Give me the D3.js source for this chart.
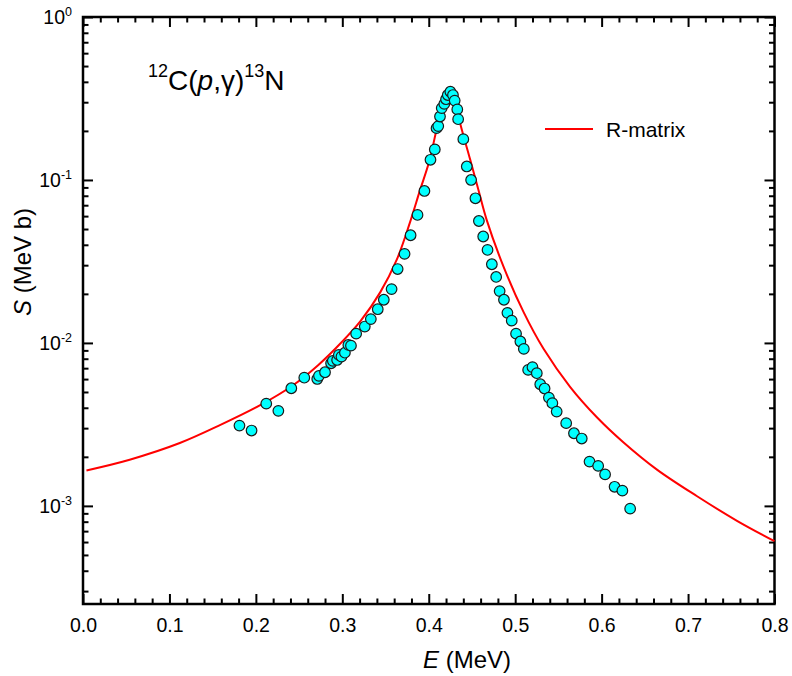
<!DOCTYPE html>
<html>
<head>
<meta charset="utf-8">
<title>12C(p,g)13N</title>
<style>
  body { margin: 0; background: #fff; }
  svg { display: block; font-family: "Liberation Sans", Arial, sans-serif; }
  .tick line { stroke: #000; stroke-width: 2px; }
  .tick text { font-size: 19.5px; fill: #000; font-family: "Liberation Sans", Arial, sans-serif; }
</style>
<script src="https://d3js.org/d3.v7.min.js"></script>
</head>
<body>
<script>
// measured points, E in MeV, S in MeV b
var E_data = [0.181,0.195,0.212,0.226,0.241,0.256,0.271,0.273,0.280,0.287,
              0.289,0.294,0.296,0.299,0.303,0.307,0.310,0.316,0.326,0.333,
              0.341,0.348,0.357,0.364,0.372,0.379,0.387,0.395,0.402,0.407,
              0.409,0.411,0.413,0.415,0.418,0.420,0.422,0.425,0.428,0.430,
              0.433,0.434,0.440,0.444,0.449,0.454,0.458,0.463,0.468,0.473,
              0.478,0.482,0.487,0.491,0.496,0.501,0.506,0.510,0.515,0.520,
              0.525,0.529,0.534,0.539,0.543,0.548,0.559,0.568,0.577,0.586,
              0.596,0.604,0.615,0.624,0.633];
var S_data = [3.11e-3,2.90e-3,4.24e-3,3.83e-3,5.27e-3,6.12e-3,6.01e-3,6.28e-3,6.61e-3,7.50e-3,
              7.76e-3,7.86e-3,8.44e-3,8.24e-3,8.71e-3,9.72e-3,9.62e-3,1.14e-2,1.26e-2,1.40e-2,
              1.61e-2,1.84e-2,2.14e-2,2.84e-2,3.52e-2,4.58e-2,6.10e-2,8.56e-2,0.133,0.154,
              0.208,0.214,0.245,0.276,0.293,0.313,0.332,0.348,0.332,0.307,
              0.271,0.236,0.178,0.121,0.100,7.72e-2,5.60e-2,4.50e-2,3.72e-2,3.04e-2,
              2.54e-2,2.08e-2,1.84e-2,1.53e-2,1.37e-2,1.14e-2,1.02e-2,9.19e-3,6.83e-3,7.10e-3,
              6.52e-3,5.58e-3,5.25e-3,4.62e-3,4.27e-3,3.79e-3,3.22e-3,2.79e-3,2.59e-3,1.87e-3,
              1.76e-3,1.56e-3,1.31e-3,1.24e-3,9.62e-4];

// R-matrix curve
var E_fit = [0.004,0.054,0.112,0.159,0.205,0.243,0.272,0.300,0.321,0.344,0.363,0.378,0.390,
             0.400,0.409,0.416,0.421,0.4248,0.429,0.4363,0.448,0.4575,0.467,0.4865,0.5096,
             0.5328,0.5637,0.5945,0.6254,0.664,0.710,0.7566,0.800];
var S_fit = [1.65e-3,1.92e-3,2.43e-3,3.14e-3,4.15e-3,5.5e-3,7.3e-3,1.02e-2,1.36e-2,2.05e-2,3.24e-2,5.43e-2,8.69e-2,
             0.127,0.203,0.29,0.34,0.356,0.33,0.223,0.133,0.0869,0.0569,0.0294,0.0155,
             0.0092,0.00536,0.0035,0.00245,0.00167,0.00115,8.1e-4,6.07e-4];

var xMajor = [0,0.1,0.2,0.3,0.4,0.5,0.6,0.7,0.8];
var yMajor = [1e-3,1e-2,1e-1,1];
var yExp = ["-3","-2","-1","0"];

var W = 792, H = 676;
var pL = 83, pR = 774.5, pT = 17, pB = 604;

var svg = d3.select("body").append("svg").attr("width", W).attr("height", H);

var x = d3.scaleLinear().domain([0, 0.8]).range([pL, pR]);
var y = d3.scaleLog().domain([2.5e-4, 1]).range([pB, pT]);

var xMinor = x.ticks(40).filter(function(d){ return xMajor.indexOf(+d.toFixed(2)) < 0; });
var yMinor = y.ticks().filter(function(d){ return Math.abs(Math.log10(d) - Math.round(Math.log10(d))) > 1e-6; });

function clean(g){ g.select(".domain").remove(); }

// bottom
svg.append("g").attr("transform", "translate(0," + pB + ")")
  .call(d3.axisBottom(x).tickValues(xMajor).tickSizeInner(-10).tickSizeOuter(0).tickPadding(14)
        .tickFormat(d3.format(".1f")))
  .call(clean);
svg.append("g").attr("transform", "translate(0," + pB + ")")
  .call(d3.axisBottom(x).tickValues(xMinor).tickSizeInner(-5.5).tickSizeOuter(0).tickFormat(""))
  .call(clean);
// top
svg.append("g").attr("transform", "translate(0," + pT + ")")
  .call(d3.axisTop(x).tickValues(xMajor).tickSizeInner(-10).tickSizeOuter(0).tickFormat(""))
  .call(clean);
svg.append("g").attr("transform", "translate(0," + pT + ")")
  .call(d3.axisTop(x).tickValues(xMinor).tickSizeInner(-5.5).tickSizeOuter(0).tickFormat(""))
  .call(clean);
// left
svg.append("g").attr("transform", "translate(" + pL + ",0)")
  .call(d3.axisLeft(y).tickValues(yMajor).tickSizeInner(-10).tickSizeOuter(0).tickFormat(""))
  .call(clean);
svg.append("g").attr("transform", "translate(" + pL + ",0)")
  .call(d3.axisLeft(y).tickValues(yMinor).tickSizeInner(-5.5).tickSizeOuter(0).tickFormat(""))
  .call(clean);
// right
svg.append("g").attr("transform", "translate(" + pR + ",0)")
  .call(d3.axisRight(y).tickValues(yMajor).tickSizeInner(-10).tickSizeOuter(0).tickFormat(""))
  .call(clean);
svg.append("g").attr("transform", "translate(" + pR + ",0)")
  .call(d3.axisRight(y).tickValues(yMinor).tickSizeInner(-5.5).tickSizeOuter(0).tickFormat(""))
  .call(clean);

// y labels 10^n
var yl = svg.append("g").selectAll("text").data(yMajor).enter().append("text")
  .attr("x", 72).attr("y", function(d){ return y(d) + 7; })
  .attr("text-anchor", "end").style("font-size", "19.5px");
yl.append("tspan").text("10");
yl.append("tspan").attr("dy", -8).style("font-size", "12.5px")
  .text(function(d, i){ return yExp[i]; });

// frame
svg.append("rect").attr("x", pL).attr("y", pT)
  .attr("width", pR - pL).attr("height", pB - pT)
  .attr("fill", "none").attr("stroke", "#000").attr("stroke-width", 2.5);

// curve
var line = d3.line().curve(d3.curveCatmullRom.alpha(0.5))
  .x(function(d){ return x(d[0]); }).y(function(d){ return y(d[1]); });
svg.append("path").datum(d3.zip(E_fit, S_fit))
  .attr("d", line).attr("fill", "none").attr("stroke", "#ff0000").attr("stroke-width", 2);

// points
svg.append("g").selectAll("circle").data(d3.zip(E_data, S_data)).enter().append("circle")
  .attr("cx", function(d){ return x(d[0]); })
  .attr("cy", function(d){ return y(d[1]); })
  .attr("r", 5.3)
  .attr("fill", "#00ffff").attr("stroke", "#1a1a1a").attr("stroke-width", 1.2);

// legend
svg.append("line").attr("x1", 545).attr("x2", 593).attr("y1", 129).attr("y2", 129)
  .attr("stroke", "#ff0000").attr("stroke-width", 2);
svg.append("text").attr("x", 606).attr("y", 137).style("font-size", "21px").text("R-matrix");

// reaction label
var t = svg.append("text").attr("x", 148).attr("y", 90).style("font-size", "28px");
t.append("tspan").style("font-size", "18px").attr("dy", -13).text("12");
t.append("tspan").attr("dy", 13).text("C(");
t.append("tspan").style("font-style", "italic").text("p");
t.append("tspan").text(",\u03b3)");
t.append("tspan").style("font-size", "18px").attr("dy", -13).text("13");
t.append("tspan").attr("dy", 13).text("N");

// axis titles
var xt = svg.append("text").attr("x", 467).attr("y", 668).attr("text-anchor", "middle").style("font-size", "24px");
xt.append("tspan").style("font-style", "italic").text("E");
xt.append("tspan").text(" (MeV)");

var ytl = svg.append("text").attr("transform", "translate(31,262) rotate(-90)")
  .attr("text-anchor", "middle").style("font-size", "24px");
ytl.append("tspan").style("font-style", "italic").text("S");
ytl.append("tspan").text(" (MeV b)");
</script>
</body>
</html>
